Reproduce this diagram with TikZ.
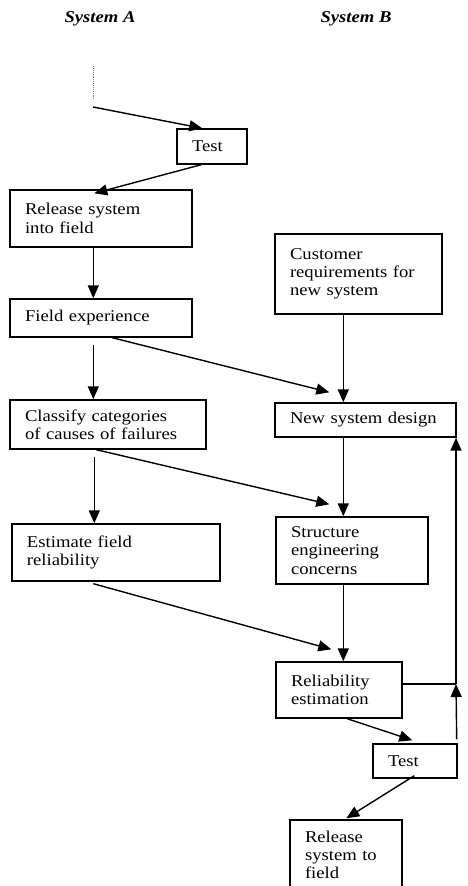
\documentclass[tikz,border=0pt]{standalone}
\usepackage{fontspec}
\setmainfont{Liberation Serif}[FakeStretch=1.13]
\usetikzlibrary{arrows.meta,calc}
\tikzset{
  bx/.style={draw, line width=1.4pt, inner xsep=15pt, inner ysep=0pt, align=left, anchor=center,
    font=\fontsize{16.5}{18.3}\selectfont},
  conn/.style={line width=1.4pt, -{Triangle[length=13pt,width=11pt]}},
  plain/.style={line width=1.4pt},
  ttl/.style={font=\fontsize{16.5}{18.3}\selectfont\bfseries\itshape, anchor=base, inner sep=0pt}
}
\begin{document}
\begin{tikzpicture}[x=1pt,y=-1pt]
\clip (0,0) rectangle (467,886);
\node[ttl] (ta) at (100,23) {System A};
\node[ttl] (tb) at (356,23) {System B};
% left column
\node[bx, text width=40pt, minimum height=35pt] (test1) at (212,146.5) {Test};
\node[bx, text width=152pt, minimum height=57pt] (rel1) at (101,218.5) {Release system\\into field};
\node[bx, text width=152pt, minimum height=38pt] (field) at (101,318) {Field experience};
\node[bx, text width=166pt, minimum height=49pt] (classify) at (108,424.5) {Classify categories\\of causes of failures};
\node[bx, text width=178pt, minimum height=57pt] (estimate) at (116,552.5) {Estimate field\\reliability};
% right column
\node[bx, text width=137pt, minimum height=80pt] (customer) at (358.5,274) {Customer\\requirements for\\new system};
\node[bx, text width=151pt, minimum height=34pt] (design) at (365.5,420) {New system design};
\node[bx, text width=122pt, minimum height=67pt] (structure) at (352,550.5) {Structure\\engineering\\concerns};
\node[bx, text width=96pt, minimum height=56pt] (reliab) at (339,690) {Reliability\\estimation};
\node[bx, text width=54pt, minimum height=34pt] (test2) at (415,761) {Test};
\node[bx, text width=82pt, minimum height=70pt] (rel2) at (346,855) {Release\\system to\\field};
% free ends
\coordinate (d1) at (93,66);
\coordinate (d2) at (93,99);
\coordinate (s0) at (93,107);
\coordinate (junc) at (456,684);
\draw[line width=0.9pt, densely dotted, gray] (d1) -- (d2);
% connectors
\draw[conn] (s0) -- ($(test1.north west)+(26,0)$);
\draw[conn] ($(test1.south west)+(25,0)$) -- ($(rel1.north west)+(85,4)$);
\draw[conn] ($(rel1.south west)+(84,0)$) -- ($(field.north west)+(84,0)$);
\draw[conn] ($(field.south west)+(84,7)$) -- ($(classify.north west)+(84,0)$);
\draw[conn] ($(field.south west)+(103,0)$) -- ($(design.north west)+(55,-10)$);
\draw[conn] ($(customer.south west)+(69,0)$) -- ($(design.north west)+(69,0)$);
\draw[conn] ($(classify.south west)+(85,7)$) -- ($(estimate.north west)+(83,0)$);
\draw[conn] ($(classify.south west)+(87,0)$) -- ($(structure.north west)+(54,-12)$);
\draw[conn] ($(design.south west)+(69,0)$) -- ($(structure.north west)+(68,0)$);
\draw[conn] ($(estimate.south west)+(82,2)$) -- ($(reliab.north west)+(56,-12)$);
\draw[conn] ($(structure.south west)+(68,0)$) -- ($(reliab.north west)+(68,0)$);
\draw[conn] ($(reliab.south west)+(72,0)$) -- ($(test2.north west)+(40,-3)$);
\draw[conn] ($(test2.south west)+(42,-3)$) -- ($(rel2.north west)+(57,-1)$);
\draw[conn] ($(test2.north east)+(-1,-4)$) -- (junc);
\draw[plain] (reliab.east |- junc) -- (junc);
\draw[conn] (junc) -- (design.south east -| junc);
\end{tikzpicture}
\end{document}
